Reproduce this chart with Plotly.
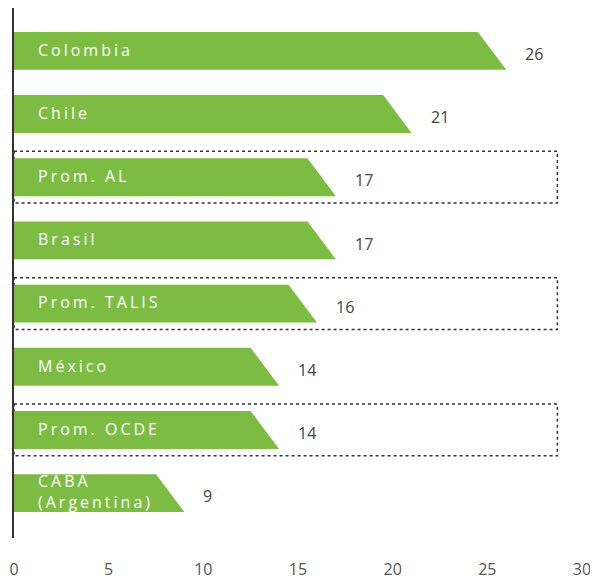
import plotly.graph_objects as go

# ---------- DATA ----------

countries = [
    "Colombia",
    "Chile",
    "Prom. AL",
    "Brasil",
    "Prom. TALIS",
    "México",
    "Prom. OCDE",
    "CABA<br>(Argentina)",
]

values = [26, 21, 17, 17, 16, 14, 14, 9]

averages = ["Prom. AL", "Prom. TALIS", "Prom. OCDE"]

x_ticks = [0, 5, 10, 15, 20, 25, 30]

# ---------- STYLE ----------

GREEN = "#7dbc42"
HALF = 0.30      # half bar height (row units)
SLANT = 1.5      # cut of the arrow end (x units)
BOX_HALF = 0.41
BOX_RIGHT = 28.7
FONT = "Open Sans"


def spaced(text):
    return "<br>".join(
        f'<span style="letter-spacing:3px">{p}</span>'
        for p in text.split("<br>")
    )


fig = go.Figure()

for i, (name, v) in enumerate(zip(countries, values)):
    fig.add_trace(go.Scatter(
        x=[0, v - SLANT, v, 0, 0],
        y=[i - HALF, i - HALF, i + HALF, i + HALF, i - HALF],
        fill="toself",
        fillcolor=GREEN,
        line=dict(width=0),
        mode="lines",
        hoverinfo="skip",
        showlegend=False,
    ))

    fig.add_annotation(
        x=1.15, y=i - 0.02, text=spaced(name),
        xanchor="left", yanchor="middle", align="left",
        showarrow=False,
        font=dict(family=FONT, size=16, color="white"),
    )

    fig.add_annotation(
        x=v + 0.9, y=i + 0.05, text=str(v),
        xanchor="left", yanchor="middle",
        showarrow=False,
        font=dict(family=FONT, size=16, color="#444444"),
    )

    if name in averages:
        fig.add_shape(
            type="rect",
            x0=0, x1=BOX_RIGHT,
            y0=i - BOX_HALF, y1=i + BOX_HALF,
            line=dict(color="#333333", width=1.5, dash="dot"),
            layer="below",
        )

fig.update_xaxes(
    range=[0, 30],
    tickvals=x_ticks,
    showgrid=False,
    zeroline=False,
    showline=False,
    ticks="",
    ticklabelstandoff=20,
    tickfont=dict(family=FONT, size=16, color="#555555"),
)

fig.update_yaxes(
    range=[7.71, -0.678],
    showgrid=False,
    zeroline=False,
    showticklabels=False,
    showline=True,
    linecolor="#333333",
    linewidth=1.5,
)

fig.update_layout(
    width=590,
    height=572,
    margin=dict(l=6, r=16, t=0, b=40),
    paper_bgcolor="white",
    plot_bgcolor="white",
)

fig.write_html("out.html")
